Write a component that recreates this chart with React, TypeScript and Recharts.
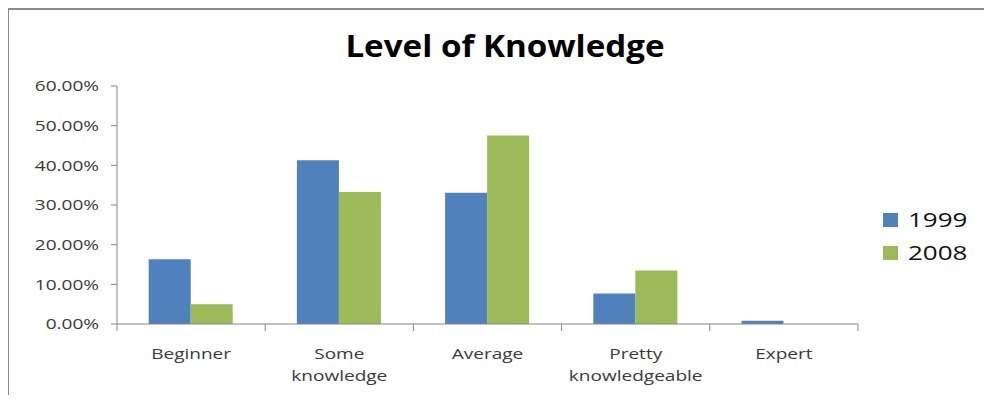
import { Bar, BarChart, Legend, XAxis, YAxis } from "recharts";

// Level of Knowledge - 1999 vs 2008 (percent of respondents)

const categories = ["Beginner", "Some knowledge", "Average", "Pretty knowledgeable", "Expert"];
const values1999 = [16.3, 41.3, 33.1, 7.7, 0.8];
const values2008 = [5.0, 33.3, 47.5, 13.5, 0];
const yTicks = [0, 10, 20, 30, 40, 50, 60];

const FONT = "'Open Sans', 'Liberation Sans', sans-serif";
const AXIS_COLOR = "#868686";
const LABEL_COLOR = "#3a3a3a";
const STRETCH = 1.27;
const LEGEND_W = 100;

const chartData = categories.map((name, i) => ({
  name,
  y1999: values1999[i],
  y2008: values2008[i],
}));

function ValueTick(props: any) {
  const { x, y, payload } = props;
  return (
    <text
      transform={`translate(${x},${y}) scale(${STRETCH},1)`}
      textAnchor="end"
      dy="0.36em"
      fontSize={15}
      fontFamily={FONT}
      fill={LABEL_COLOR}
    >
      {`${Number(payload.value).toFixed(2)}%`}
    </text>
  );
}

function CategoryTick(props: any) {
  const { x, y, payload, index } = props;
  const half = payload && payload.offset ? payload.offset : 0;
  const label = String(payload ? payload.value : "");
  const sp = label.indexOf(" ");
  const lines = sp > 0 ? [label.slice(0, sp), label.slice(sp + 1)] : [label];
  const last = index === categories.length - 1;
  return (
    <g>
      <line x1={x - half} x2={x - half} y1={y - 7} y2={y} stroke={AXIS_COLOR} />
      {last && <line x1={x + half} x2={x + half} y1={y - 7} y2={y} stroke={AXIS_COLOR} />}
      {lines.map((ln, i) => (
        <text
          key={i}
          transform={`translate(${x},${y + 28 + i * 22}) scale(${STRETCH},1)`}
          textAnchor="middle"
          fontSize={15}
          fontFamily={FONT}
          fill={LABEL_COLOR}
        >
          {ln}
        </text>
      ))}
    </g>
  );
}

function LegendBox(props: any) {
  const items = props.payload || [];
  return (
    <div>
      {items.map((entry: any, i: number) => (
        <div key={i} style={{ height: 33, display: "flex", alignItems: "center" }}>
          <span style={{ width: 15, height: 14, background: entry.color, display: "inline-block" }} />
          <span
            style={{
              marginLeft: 10,
              fontFamily: FONT,
              fontSize: 20,
              color: "#111",
              display: "inline-block",
              transform: "scaleX(1.3)",
              transformOrigin: "left center",
              lineHeight: "33px",
            }}
          >
            {entry.value}
          </span>
        </div>
      ))}
    </div>
  );
}

export default function App() {
  return (
    <div style={{ position: "relative", width: 976, height: 387 }}>
      <div
        style={{
          position: "absolute",
          left: -1,
          top: 0,
          width: 977,
          height: 387,
          borderLeft: "2px solid #8a8a8a",
          borderTop: "2px solid #8a8a8a",
          boxSizing: "border-box",
        }}
      />
      <div style={{ position: "absolute", left: -8, top: -8, width: 992, height: 403 }}>
        <BarChart
          width={992}
          height={403}
          data={chartData}
          margin={{ top: 86, right: 134 - LEGEND_W, bottom: 19, left: 0 }}
          barCategoryGap="21.4%"
          barGap={0}
        >
          <XAxis
            dataKey="name"
            height={60}
            stroke={AXIS_COLOR}
            tickLine={false}
            tickSize={7}
            tickMargin={0}
            interval={0}
            tick={<CategoryTick />}
          />
          <YAxis
            width={117}
            domain={[0, 60]}
            ticks={yTicks}
            stroke={AXIS_COLOR}
            tickSize={6}
            tickMargin={12}
            tick={<ValueTick />}
          />
          <Legend
            layout="horizontal"
            verticalAlign="middle"
            align="right"
            content={<LegendBox />}
            wrapperStyle={{ left: 883, top: 203, right: "auto", width: LEGEND_W }}
          />
          <Bar dataKey="y1999" name="1999" fill="#4F81BD" isAnimationActive={false} />
          <Bar dataKey="y2008" name="2008" fill="#9BBB59" isAnimationActive={false} />
        </BarChart>
      </div>
      <svg
        width={992}
        height={80}
        style={{ position: "absolute", left: -8, top: -8, pointerEvents: "none" }}
      >
        <text
          transform="translate(505,57) scale(1.07,1)"
          textAnchor="middle"
          fontFamily={FONT}
          fontWeight={700}
          fontSize={31}
          fill="#000"
        >
          Level of Knowledge
        </text>
      </svg>
    </div>
  );
}
